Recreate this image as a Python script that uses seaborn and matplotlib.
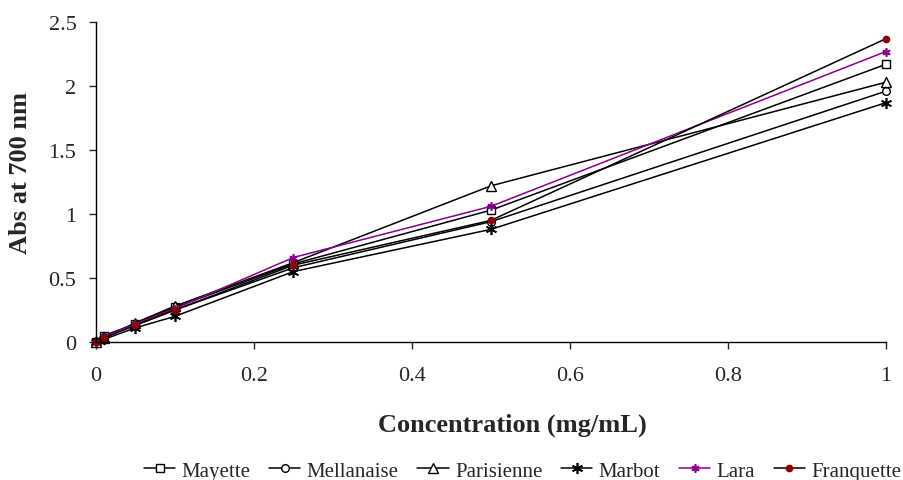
import matplotlib
matplotlib.use("Agg")
import matplotlib.pyplot as plt
import seaborn as sns
import pandas as pd

conc = [0, 0.01, 0.05, 0.1, 0.25, 0.5, 1]
mayette = [0.0, 0.05, 0.14, 0.27, 0.61, 1.03, 2.17]
mellanaise = [0.0, 0.04, 0.13, 0.25, 0.58, 0.94, 1.96]
parisienne = [0.0, 0.03, 0.15, 0.28, 0.62, 1.22, 2.03]
marbot = [0.0, 0.02, 0.11, 0.20, 0.55, 0.88, 1.87]
lara = [0.0, 0.04, 0.14, 0.26, 0.66, 1.06, 2.27]
franquette = [0.0, 0.03, 0.13, 0.25, 0.60, 0.95, 2.37]

series = ["Mayette", "Mellanaise", "Parisienne", "Marbot", "Lara", "Franquette"]
values = [mayette, mellanaise, parisienne, marbot, lara, franquette]

rows = []
for name, vals in zip(series, values):
    for c, v in zip(conc, vals):
        rows.append({"Concentration": c, "Abs": v, "Variety": name})
df = pd.DataFrame(rows)

sns.set_style("ticks")
plt.rcParams['font.family'] = ['Liberation Serif', 'DejaVu Serif']

styles = {
    "Mayette": dict(color="black", marker="s", mfc="white", mec="black", ms=5.5),
    "Mellanaise": dict(color="black", marker="o", mfc="white", mec="black", ms=5.5),
    "Parisienne": dict(color="black", marker="^", mfc="white", mec="black", ms=6.5),
    "Marbot": dict(color="black", marker=(6, 2, 0), mfc="black", mec="black", ms=8, mew=1.2),
    "Lara": dict(color="#8B008B", marker=(6, 2, 0), mfc="#8B008B", mec="#8B008B", ms=6, mew=1.2),
    "Franquette": dict(color="black", marker="o", mfc="#8B0000", mec="#8B0000", ms=4.5),
}

fig = plt.figure(figsize=(9.04, 4.81), dpi=100)
ax = fig.add_axes([0.106, 0.287, 0.874, 0.665])

for name in series:
    st = styles[name]
    sub = df[df["Variety"] == name]
    sns.lineplot(data=sub, x="Concentration", y="Abs", ax=ax, label=name,
                 color=st["color"], marker=st["marker"],
                 markerfacecolor=st["mfc"], markeredgecolor=st["mec"],
                 markersize=st["ms"], markeredgewidth=st.get("mew", 1.0),
                 linewidth=1.1, clip_on=False)

ax.set_xlim(0, 1)
ax.set_ylim(0, 2.5)
ax.set_xticks([0, 0.2, 0.4, 0.6, 0.8, 1])
ax.set_xticklabels(["0", "0.2", "0.4", "0.6", "0.8", "1"])
ax.set_yticks([0, 0.5, 1, 1.5, 2, 2.5])
ax.set_yticklabels(["0", "0.5", "1", "1.5", "2", "2.5"])
ax.tick_params(labelsize=16, direction="out", length=5, width=1)
ax.tick_params(axis="x", pad=12)
ax.tick_params(axis="y", pad=9)
for s in ["top", "right"]:
    ax.spines[s].set_visible(False)
for s in ["left", "bottom"]:
    ax.spines[s].set_linewidth(1)
    ax.spines[s].set_color("black")

ax.set_xlabel("Concentration (mg/mL)", fontsize=19, fontweight="bold")
ax.xaxis.set_label_coords(0.527, -0.222)
ax.set_ylabel("Abs at 700 nm", fontsize=19, fontweight="bold")
ax.yaxis.set_label_coords(-0.081, 0.53)

ax.legend_.remove()
handles, labels = ax.get_legend_handles_labels()
fig.legend(handles, labels, loc="center", bbox_to_anchor=(0.578, 0.019), ncol=6,
           frameon=False, fontsize=15, handlelength=1.5, columnspacing=0.9,
           handletextpad=0.3, borderpad=0.1)

fig.savefig("out.png", dpi=100)
